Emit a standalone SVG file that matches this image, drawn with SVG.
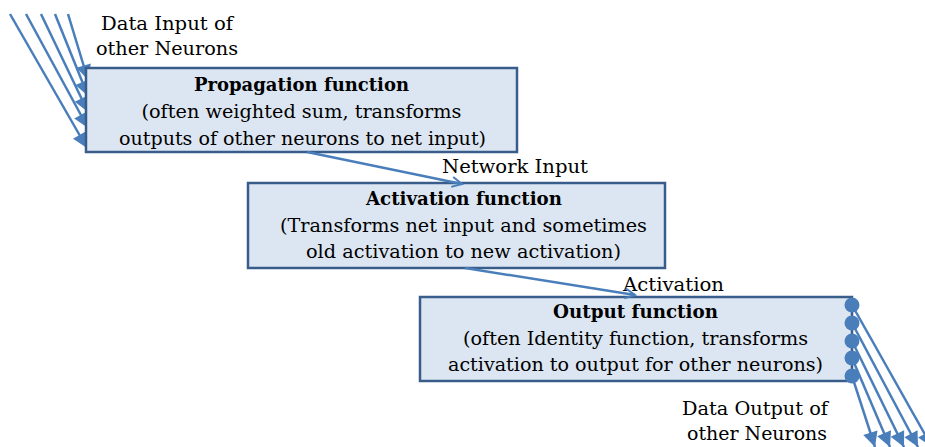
<svg xmlns="http://www.w3.org/2000/svg" width="925" height="447" viewBox="0 0 925 447">
<style>
.box{fill:#dce6f2;stroke:#385d8a;stroke-width:2.5}
.ln{stroke:#4a7ebb;stroke-width:2.5;fill:none}
.t{font-family:"DejaVu Serif","Liberation Serif",serif;font-size:19px;fill:#000;text-anchor:middle}
.b{font-weight:bold}
.dot{fill:#4a7ebb}
</style>
<defs>
<marker id="tri" markerUnits="userSpaceOnUse" markerWidth="18" markerHeight="18" viewBox="-16 -8 18 16" refX="0" refY="0" orient="auto">
<path d="M0,0 L-15,-7.5 L-15,7.5 Z" fill="#4a7ebb"/>
</marker>
<marker id="open" markerUnits="userSpaceOnUse" markerWidth="14" markerHeight="14" viewBox="-12 -7 14 14" refX="0" refY="0" orient="auto">
<path d="M-10,-5 L0,0 L-10,5" fill="none" stroke="#4a7ebb" stroke-width="2"/>
</marker>
</defs>
<g id="input-connectors">
<line class="ln" x1="68" y1="14" x2="88" y2="80" marker-end="url(#tri)"/>
<line class="ln" x1="55" y1="14" x2="88" y2="96" marker-end="url(#tri)"/>
<line class="ln" x1="41" y1="14" x2="88" y2="112" marker-end="url(#tri)"/>
<line class="ln" x1="26" y1="14" x2="88" y2="128" marker-end="url(#tri)"/>
<line class="ln" x1="10" y1="14" x2="87" y2="148" marker-end="url(#tri)"/>
</g>
<g id="propagation">
<rect class="box" x="86" y="68" width="431" height="84"/>
<text class="t b" x="301.5" y="91" textLength="215" lengthAdjust="spacingAndGlyphs">Propagation function</text>
<text class="t" x="301.5" y="118" textLength="320" lengthAdjust="spacingAndGlyphs">(often weighted sum, transforms</text>
<text class="t" x="302.5" y="145" textLength="367" lengthAdjust="spacingAndGlyphs">outputs of other neurons to net input)</text>
</g>
<g id="activation">
<rect class="box" x="248" y="183" width="417" height="85"/>
<text class="t b" x="464" y="205" textLength="196" lengthAdjust="spacingAndGlyphs">Activation function</text>
<text class="t" x="463.5" y="232" textLength="367" lengthAdjust="spacingAndGlyphs">(Transforms net input and sometimes</text>
<text class="t" x="463.5" y="258" textLength="315" lengthAdjust="spacingAndGlyphs">old activation to new activation)</text>
</g>
<g id="output">
<rect class="box" x="420" y="297" width="432" height="84"/>
<text class="t b" x="635.5" y="318" textLength="165" lengthAdjust="spacingAndGlyphs">Output function</text>
<text class="t" x="635.5" y="345" textLength="345" lengthAdjust="spacingAndGlyphs">(often Identity function, transforms</text>
<text class="t" x="635.5" y="371" textLength="375" lengthAdjust="spacingAndGlyphs">activation to output for other neurons)</text>
</g>
<g id="connectors">
<line class="ln" x1="307" y1="152" x2="462" y2="184" marker-end="url(#open)"/>
<line class="ln" x1="465" y1="268" x2="635" y2="295" marker-end="url(#open)"/>
<line class="ln" x1="852" y1="305" x2="932" y2="447" marker-end="url(#tri)"/>
<line class="ln" x1="852" y1="323" x2="918" y2="447" marker-end="url(#tri)"/>
<line class="ln" x1="852" y1="341" x2="904" y2="447" marker-end="url(#tri)"/>
<line class="ln" x1="852" y1="358" x2="890" y2="447" marker-end="url(#tri)"/>
<line class="ln" x1="852" y1="376" x2="875" y2="447" marker-end="url(#tri)"/>
<circle class="dot" cx="852" cy="305" r="7.5"/>
<circle class="dot" cx="852" cy="323" r="7.5"/>
<circle class="dot" cx="852" cy="341" r="7.5"/>
<circle class="dot" cx="852" cy="358" r="7.5"/>
<circle class="dot" cx="852" cy="376" r="7.5"/>
</g>
<g id="labels">
<text class="t" x="167" y="30" textLength="132" lengthAdjust="spacingAndGlyphs">Data Input of</text>
<text class="t" x="167" y="55" textLength="142" lengthAdjust="spacingAndGlyphs">other Neurons</text>
<text class="t" x="515" y="173" textLength="146" lengthAdjust="spacingAndGlyphs">Network Input</text>
<text class="t" x="673.5" y="291" textLength="101" lengthAdjust="spacingAndGlyphs">Activation</text>
<text class="t" x="755" y="415" textLength="146" lengthAdjust="spacingAndGlyphs">Data Output of</text>
<text class="t" x="757" y="440" textLength="140" lengthAdjust="spacingAndGlyphs">other Neurons</text>
</g>
</svg>
